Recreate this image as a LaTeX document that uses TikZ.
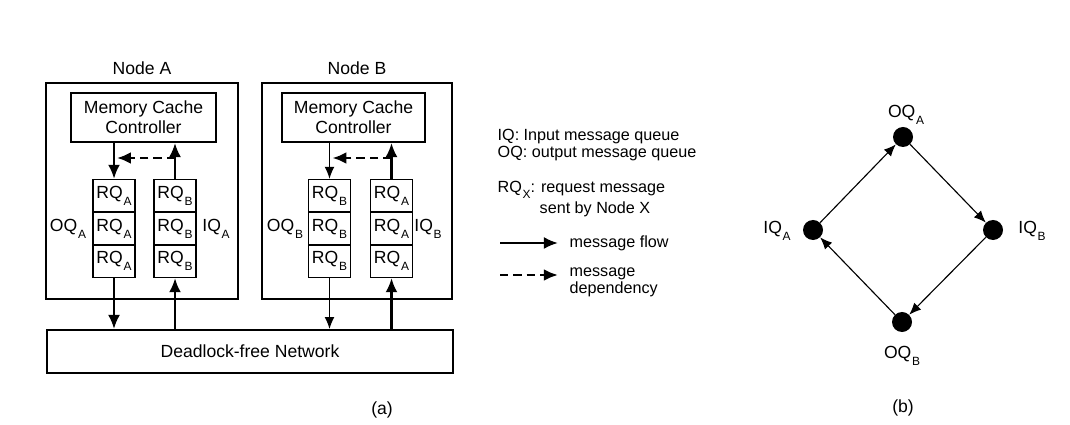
\documentclass[tikz,border=0pt]{standalone}
\usepackage{fontspec}
\setmainfont{Liberation Sans}
\usetikzlibrary{arrows.meta}

\newcommand{\boxfont}{\fontsize{12.5}{14}\selectfont}
\newcommand{\keyfont}{\fontsize{11.5}{12.5}\selectfont}
\newcommand{\qs}[1]{\kern0.5pt\raisebox{-0.75ex}{\fontsize{8.5}{9}\selectfont#1}}

\tikzset{
	box/.style={rectangle, draw=black, line width=1.4pt},
	cell/.style={rectangle, draw=black, line width=1.1pt, minimum width=1.05cm, minimum height=0.82cm, inner sep=0pt},
	flow/.style={-{Latex[length=10pt,width=8.5pt]}, line width=1.6pt},
	thinflow/.style={-{Latex[length=8.5pt,width=7pt]}, line width=0.8pt},
	dep/.style={-{Latex[length=10pt,width=8.5pt]}, line width=2pt, dash pattern=on 6pt off 3.5pt},
	dot/.style={circle, fill=black, minimum size=0.5cm, inner sep=0pt},
	key/.style={anchor=west, inner sep=1pt, font=\keyfont, align=left}
}

\begin{document}
\begin{tikzpicture}[x=0.025cm, y=-0.025cm, font=\boxfont]
	\useasboundingbox (0,0) rectangle (1070,425);
	% (a) the two nodes
	\node [box, minimum width=4.8cm, minimum height=5.4cm] (nodeA) at (142,191) {};
	\node [box, minimum width=4.75cm, minimum height=5.4cm] (nodeB) at (357,191) {};
	\node (nodeAlab) at (142,68) {Node A};
	\node (nodeBlab) at (357,68) {Node B};
	\node [box, minimum width=3.625cm, minimum height=1.225cm, align=center] (mccA) at (143.5,117.5) {Memory Cache\\Controller};
	\node [box, minimum width=3.575cm, minimum height=1.225cm, align=center] (mccB) at (353.5,117.5) {Memory Cache\\Controller};
	% queues
	\foreach \i/\y in {1/196,2/228.5,3/261} {
		\node [cell] (oqA\i) at (114,\y) {RQ\qs{A}};
		\node [cell] (iqA\i) at (175,\y) {RQ\qs{B}};
		\node [cell] (oqB\i) at (329.5,\y) {RQ\qs{B}};
		\node [cell] (iqB\i) at (391.5,\y) {RQ\qs{A}};
	}
	\node (oqAlab) at (68,228.5) {OQ\qs{A}};
	\node (iqAlab) at (216,228.5) {IQ\qs{A}};
	\node (oqBlab) at (285,228.5) {OQ\qs{B}};
	\node (iqBlab) at (428,228.5) {IQ\qs{B}};
	\node [box, minimum width=10.15cm, minimum height=1.075cm] (net) at (250,351.5) {Deadlock-free Network};
	% flows inside node A
	\draw [flow] (oqA1.north |- mccA.south) -- (oqA1.north);
	\draw [flow] (iqA1.north) -- (iqA1.north |- mccA.south);
	\draw [dep] (iqA1.north |- 0,158) -- ([xshift=2pt]oqA1.north |- 0,158);
	\draw [flow] (oqA3.south) -- (oqA3.south |- net.north);
	\draw [flow] (iqA3.south |- net.north) -- (iqA3.south);
	% flows inside node B
	\draw [thinflow] (oqB1.north |- mccB.south) -- (oqB1.north);
	\draw [flow] (iqB1.north) -- (iqB1.north |- mccB.south);
	\draw [dep] (iqB1.north |- 0,158) -- ([xshift=2pt]oqB1.north |- 0,158);
	\draw [thinflow] (oqB3.south) -- (oqB3.south |- net.north);
	\draw [flow] (iqB3.south |- net.north) -- (iqB3.south);
	\node (capA) at (382,410) {(a)};
	% legend
	\node [key] (iqkey) at (496,137) {IQ: Input message queue};
	\node [key] (oqkey) at (496,154) {OQ: output message queue};
	\node [key] (rqkey) at (496,190) {RQ\qs{X}: request message};
	\node [key] (rqkey2) at (538,209) {sent by Node X};
	\coordinate (flowS) at (500,243);
	\coordinate (flowE) at (558,243);
	\draw [flow] (flowS) -- (flowE);
	\node [key] (flowkey) at (568,243) {message flow};
	\coordinate (depS) at (500,275);
	\coordinate (depE) at (558,275);
	\draw [dep] (depS) -- (depE);
	\node [key, anchor=north west] (depkey) at (568,266) {message\\dependency};
	% (b) dependency cycle
	\node [dot] (oqA) at (903,137) {};
	\node [dot] (iqA) at (813,230) {};
	\node [dot] (iqB) at (993,230) {};
	\node [dot] (oqB) at (902,322) {};
	\node (oqAtxt) at (906,115) {OQ\qs{A}};
	\node (iqAtxt) at (777,231) {IQ\qs{A}};
	\node (iqBtxt) at (1032,231) {IQ\qs{B}};
	\node (oqBtxt) at (902,356) {OQ\qs{B}};
	\draw [thinflow] (iqA) -- (oqA);
	\draw [thinflow] (oqA) -- (iqB);
	\draw [thinflow] (iqB) -- (oqB);
	\draw [thinflow] (oqB) -- (iqA);
	\node (capB) at (903,408) {(b)};
\end{tikzpicture}
\end{document}
